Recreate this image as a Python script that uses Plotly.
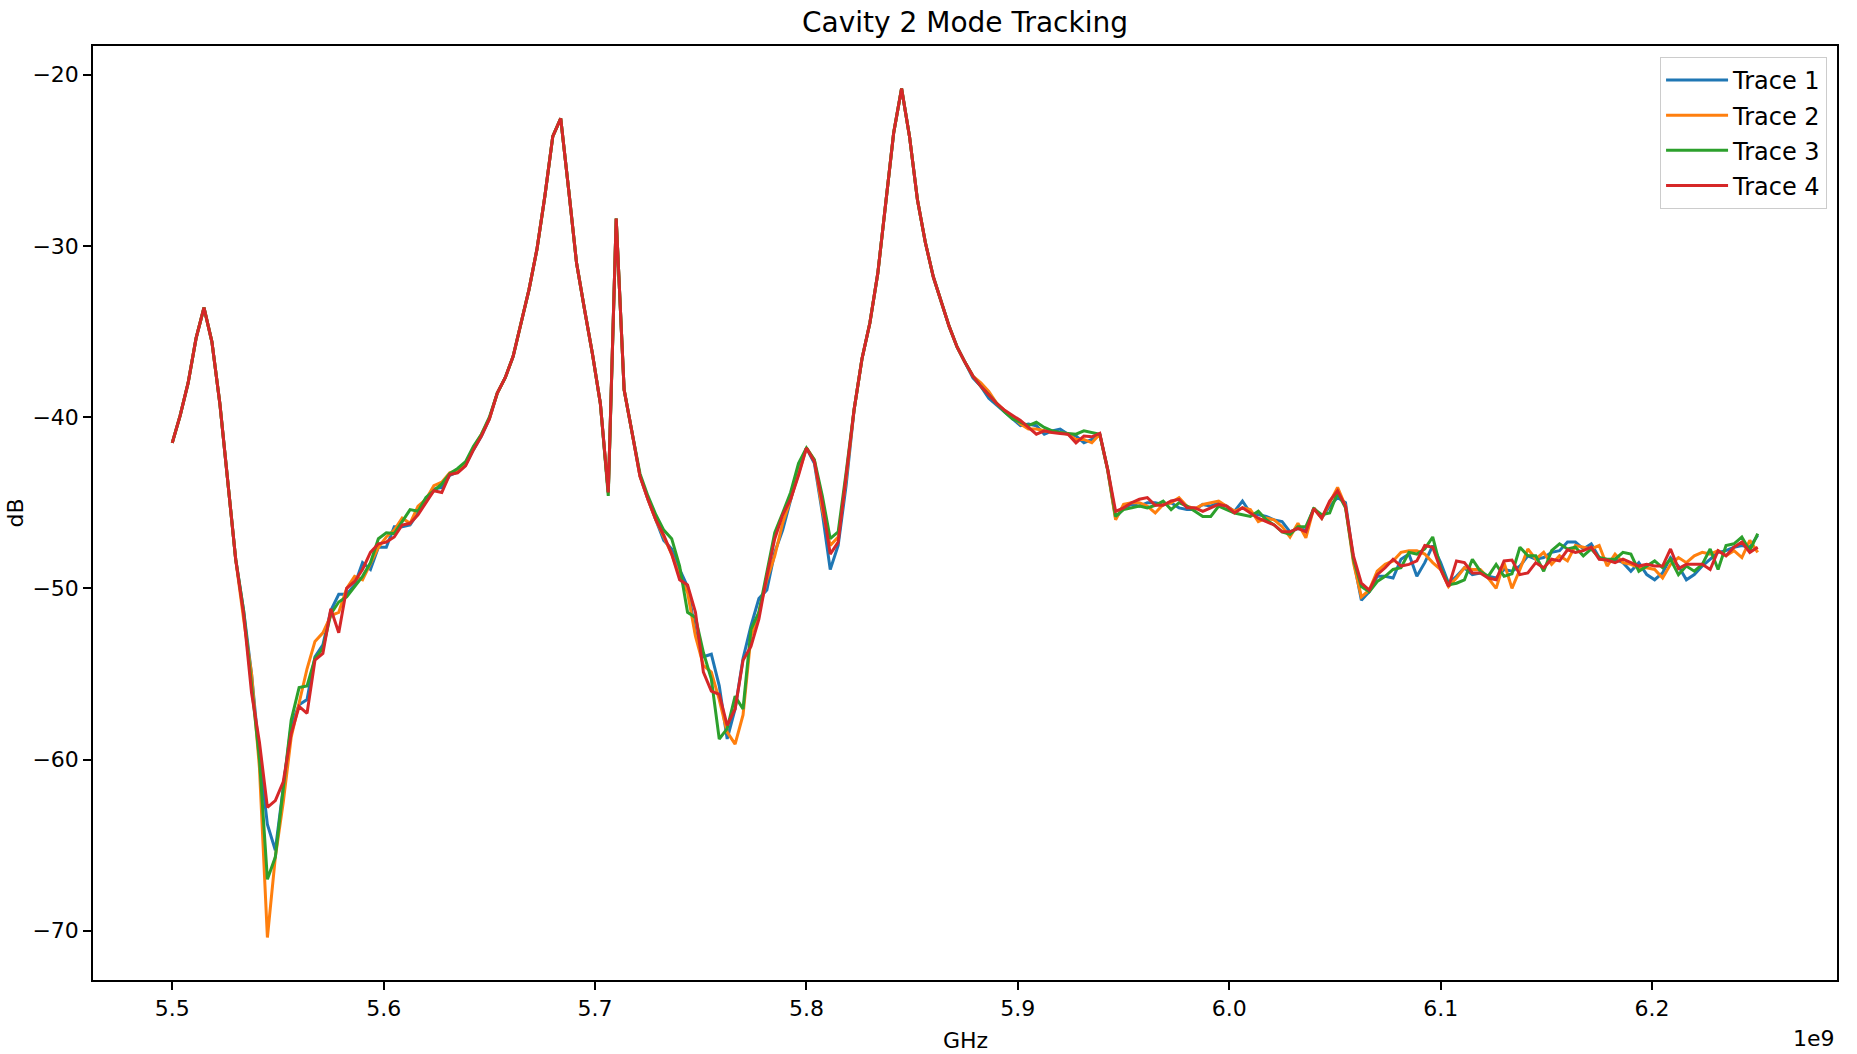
import numpy as np
import plotly.graph_objects as go

# Sweep definition (Hz)
FREQ_START = 5.5e9
FREQ_STOP = 6.25e9
N_POINTS = 201
freq = np.linspace(FREQ_START, FREQ_STOP, N_POINTS)

trace_names = ["Trace 1", "Trace 2", "Trace 3", "Trace 4"]

trace1 = [
    -41.5, -39.9, -38.0, -35.4, -33.6, -35.6, -39.2, -43.8, -48.3, -51.3,
    -55.0, -59.8, -63.8, -65.3, -61.5, -58.0, -56.8, -56.5, -54.0, -53.3,
    -51.3, -50.35, -50.35, -49.8, -48.5, -48.9, -47.6, -47.6, -46.4, -46.4,
    -46.3, -45.6, -44.9, -44.2, -44.1, -43.4, -43.2, -42.8, -41.9, -41.1,
    -40.1, -38.6, -37.7, -36.45, -34.5, -32.55, -30.2, -27.1, -23.6, -22.55,
    -26.7, -31.0, -33.7, -36.3, -39.2, -44.4, -28.4, -38.4, -40.9, -43.45,
    -44.8, -46.0, -47.2, -47.7, -48.9, -49.9, -52.6, -54.0, -53.85, -55.7,
    -58.8, -57.05, -54.1, -52.2, -50.6, -50.1, -47.9, -46.6, -44.8, -43.1,
    -41.8, -42.7, -45.6, -48.9, -47.5, -44.0, -39.6, -36.6, -34.5, -31.6,
    -27.5, -23.4, -20.8, -23.6, -27.3, -29.8, -31.8, -33.3, -34.7, -35.9,
    -36.8, -37.7, -38.2, -38.9, -39.3, -39.7, -40.1, -40.5, -40.4, -40.5,
    -41.0, -40.8, -40.7, -41.0, -41.1, -41.5, -41.3, -41.0, -43.1, -45.9,
    -45.3, -45.1, -45.2, -45.0, -45.0, -45.1, -45.0, -45.3, -45.4, -45.4,
    -45.1, -45.2, -45.0, -45.2, -45.5, -44.9, -45.6, -45.7, -45.8, -46.0,
    -46.1, -46.7, -46.5, -46.6, -45.3, -45.9, -45.2, -44.7, -45.0, -48.3,
    -50.7, -50.2, -49.3, -49.3, -49.4, -48.3, -48.0, -49.3, -48.5, -47.5,
    -48.5, -49.7, -49.3, -48.8, -49.2, -49.1, -49.3, -49.4, -48.9, -49.0,
    -48.7, -48.1, -48.3, -48.2, -47.9, -47.8, -47.3, -47.3, -47.7, -47.4,
    -48.2, -48.4, -48.3, -48.5, -49.0, -48.5, -49.2, -49.5, -49.1, -48.2,
    -48.7, -49.5, -49.2, -48.7, -48.3, -47.9, -47.8, -47.6, -47.5, -47.6,
    -46.9,
]

trace2 = [
    -41.5, -39.9, -38.0, -35.4, -33.6, -35.6, -39.2, -43.8, -48.3, -51.8,
    -55.0, -60.5, -70.4, -65.7, -62.5, -58.7, -56.6, -54.7, -53.1, -52.6,
    -51.6, -51.4, -50.0, -49.3, -49.5, -48.5, -47.6, -47.0, -46.6, -45.9,
    -46.2, -45.2, -44.8, -44.0, -43.8, -43.25, -43.1, -42.7, -41.8, -41.0,
    -40.1, -38.6, -37.7, -36.45, -34.5, -32.55, -30.2, -27.1, -23.6, -22.55,
    -26.7, -31.0, -33.7, -36.3, -39.2, -44.4, -28.4, -38.4, -40.9, -43.45,
    -44.8, -46.0, -47.0, -48.0, -49.3, -50.25, -52.8, -54.5, -54.9, -56.5,
    -58.4, -59.1, -57.4, -52.8, -51.4, -49.5, -48.1, -46.2, -44.8, -43.25,
    -41.8, -42.5, -45.4, -47.5, -47.0, -43.6, -39.6, -36.6, -34.5, -31.6,
    -27.5, -23.4, -20.8, -23.6, -27.3, -29.8, -31.8, -33.3, -34.7, -35.9,
    -36.8, -37.6, -38.0, -38.5, -39.2, -39.6, -40.0, -40.4, -40.7, -40.7,
    -40.8, -40.9, -40.9, -41.0, -41.3, -41.3, -41.5, -41.0, -43.1, -46.0,
    -45.1, -45.0, -45.0, -45.2, -45.6, -45.1, -45.0, -44.7, -45.2, -45.35,
    -45.1, -45.0, -44.9, -45.2, -45.5, -45.3, -45.4, -46.1, -45.9, -46.0,
    -46.4, -47.0, -46.2, -47.05, -45.3, -45.9, -45.0, -44.1, -45.2, -48.5,
    -50.5, -50.1, -49.0, -48.6, -48.4, -47.9, -47.8, -47.8, -48.0, -48.5,
    -48.9, -49.9, -49.4, -48.8, -48.9, -48.9, -49.4, -50.0, -48.5, -50.0,
    -48.9, -47.7, -48.3, -47.9, -48.6, -48.1, -48.4, -47.5, -47.6, -47.7,
    -47.5, -48.7, -48.0, -48.5, -48.6, -48.8, -48.8, -48.9, -49.4, -48.6,
    -48.2, -48.5, -48.1, -47.9, -48.0, -47.8, -48.1, -47.8, -48.2, -47.2,
    -47.9,
]

trace3 = [
    -41.5, -39.9, -38.0, -35.4, -33.6, -35.6, -39.2, -43.8, -48.3, -51.3,
    -55.5, -60.0, -67.0, -65.7, -61.7, -57.7, -55.8, -55.7, -54.1, -53.5,
    -51.5, -50.8, -50.5, -49.9, -49.3, -48.5, -47.1, -46.75, -46.8, -46.1,
    -45.4, -45.5, -44.7, -44.3, -43.9, -43.3, -43.0, -42.6, -41.7, -41.0,
    -40.0, -38.6, -37.7, -36.45, -34.5, -32.55, -30.2, -27.1, -23.6, -22.55,
    -26.7, -31.0, -33.7, -36.3, -39.2, -44.6, -28.4, -38.4, -40.9, -43.3,
    -44.6, -45.7, -46.6, -47.1, -48.7, -51.4, -51.7, -53.75, -55.3, -58.8,
    -58.2, -56.3, -57.05, -52.4, -51.4, -49.1, -46.75, -45.6, -44.4, -42.7,
    -41.8, -42.5, -44.6, -47.1, -46.7, -43.25, -39.6, -36.6, -34.5, -31.6,
    -27.5, -23.4, -20.8, -23.6, -27.3, -29.8, -31.8, -33.3, -34.7, -35.9,
    -36.8, -37.6, -38.2, -38.7, -39.2, -39.7, -40.1, -40.3, -40.5, -40.3,
    -40.6, -40.8, -40.9, -40.95, -41.0, -40.8, -40.9, -41.0, -43.05, -45.8,
    -45.4, -45.3, -45.2, -45.3, -45.15, -44.9, -45.4, -45.0, -45.2, -45.5,
    -45.8, -45.8, -45.2, -45.4, -45.6, -45.7, -45.8, -45.5, -46.0, -46.3,
    -46.7, -46.85, -46.4, -46.4, -45.35, -45.7, -45.6, -44.4, -45.3, -48.3,
    -49.9, -50.2, -49.6, -49.3, -48.9, -48.8, -47.9, -48.0, -47.7, -47.0,
    -48.8, -49.8, -49.7, -49.5, -48.3, -49.0, -49.3, -48.6, -49.3, -49.15,
    -47.6, -48.1, -48.1, -49.0, -47.8, -47.4, -47.7, -47.6, -48.1, -47.7,
    -48.2, -48.3, -48.3, -47.9, -48.0, -49.0, -48.7, -48.4, -48.8, -48.3,
    -49.2, -48.7, -49.0, -48.6, -47.7, -48.9, -47.5, -47.4, -47.0, -47.8,
    -46.8,
]

trace4 = [
    -41.5, -39.9, -38.0, -35.4, -33.6, -35.6, -39.2, -43.8, -48.3, -51.5,
    -56.1, -59.0, -62.8, -62.4, -61.3, -58.5, -56.9, -57.3, -54.2, -53.8,
    -51.2, -52.6, -50.0, -49.6, -48.9, -47.9, -47.4, -47.3, -47.0, -46.3,
    -46.2, -45.7, -45.0, -44.3, -44.4, -43.35, -43.25, -42.85, -41.9, -41.1,
    -40.1, -38.6, -37.7, -36.45, -34.5, -32.55, -30.2, -27.1, -23.6, -22.55,
    -26.7, -31.0, -33.7, -36.3, -39.2, -44.4, -28.4, -38.4, -40.9, -43.45,
    -44.8, -46.0, -46.9, -48.0, -49.5, -49.8, -51.4, -54.9, -56.0, -56.2,
    -58.0, -57.05, -54.2, -53.4, -51.8, -49.3, -47.1, -45.7, -44.8, -43.4,
    -41.8, -42.6, -45.0, -48.0, -47.3, -43.6, -39.6, -36.6, -34.5, -31.6,
    -27.5, -23.4, -20.8, -23.6, -27.3, -29.8, -31.8, -33.3, -34.7, -35.9,
    -36.8, -37.6, -38.2, -38.7, -39.2, -39.6, -39.9, -40.2, -40.6, -41.0,
    -40.8, -40.9, -40.95, -41.0, -41.5, -41.1, -41.15, -40.95, -43.05, -45.5,
    -45.3, -45.0, -44.8, -44.7, -45.15, -45.15, -44.9, -44.8, -45.3, -45.3,
    -45.5, -45.3, -45.1, -45.2, -45.6, -45.3, -45.6, -45.9, -46.1, -46.3,
    -46.7, -46.7, -46.5, -46.7, -45.35, -45.9, -44.9, -44.3, -45.2, -48.1,
    -49.7, -50.1, -49.2, -48.8, -48.3, -48.7, -48.6, -48.4, -47.5, -47.6,
    -48.9, -49.9, -48.4, -48.5, -49.1, -49.1, -49.4, -49.5, -48.4, -48.35,
    -49.2, -49.1, -48.5, -48.8, -48.3, -48.4, -47.75, -47.9, -47.8, -47.6,
    -48.3, -48.35, -48.5, -48.3, -48.5, -48.7, -48.6, -48.7, -48.7, -47.7,
    -48.85, -48.6, -48.6, -48.6, -48.9, -47.8, -48.1, -47.6, -47.3, -47.9,
    -47.6,
]

series = [trace1, trace2, trace3, trace4]
colors = ["#1f77b4", "#ff7f0e", "#2ca02c", "#d62728"]

x_tick_vals = [5.5e9, 5.6e9, 5.7e9, 5.8e9, 5.9e9, 6.0e9, 6.1e9, 6.2e9]
x_tick_text = ["5.5", "5.6", "5.7", "5.8", "5.9", "6.0", "6.1", "6.2"]
y_tick_vals = [-70, -60, -50, -40, -30, -20]

FONT = "DejaVu Sans"

fig = go.Figure()
for name, vals, col in zip(trace_names, series, colors):
    fig.add_trace(go.Scatter(
        x=freq, y=vals, mode="lines", name=name, legendgroup=name,
        line=dict(color=col, width=3),
    ))

# matplotlib-like 5% margins
all_vals = np.concatenate([np.array(s) for s in series])
ymin, ymax = all_vals.min(), all_vals.max()
ypad = 0.05 * (ymax - ymin)
xpad = 0.05 * (FREQ_STOP - FREQ_START)

axis_common = dict(
    showline=True, linecolor="black", linewidth=1.5, mirror=True,
    ticks="outside", ticklen=8, tickwidth=1.5, tickcolor="black",
    showgrid=False, zeroline=False,
    tickfont=dict(family=FONT, size=22, color="black"),
)

fig.update_layout(
    width=1857, height=1054,
    margin=dict(l=93, r=20, t=46, b=74),
    paper_bgcolor="white", plot_bgcolor="white",
    font=dict(family=FONT, color="black"),
    title=dict(text="Cavity 2 Mode Tracking", x=0.5, xanchor="center",
               xref="paper",
               y=1 - 22.5 / 1054, yanchor="middle",
               font=dict(family=FONT, size=28, color="black")),
    xaxis=dict(range=[FREQ_START - xpad, FREQ_STOP + xpad],
               tickvals=x_tick_vals, ticktext=x_tick_text, **axis_common),
    yaxis=dict(range=[ymin - ypad, ymax + ypad], tickvals=y_tick_vals,
               **axis_common),
    legend=dict(x=0.9943, y=0.9884, xanchor="right", yanchor="top",
                bgcolor="rgba(255,255,255,0.8)", bordercolor="#cccccc",
                borderwidth=1, tracegroupgap=1, itemwidth=62,
                font=dict(family=FONT, size=24, color="black")),
    showlegend=True,
)

fig.add_annotation(text="GHz", xref="paper", yref="paper", x=0.5, y=-0.0646,
                   xanchor="center", yanchor="middle", showarrow=False,
                   font=dict(family=FONT, size=22, color="black"))
fig.add_annotation(text="dB", xref="paper", yref="paper", x=-93 / 1744, y=0.5,
                   xanchor="left", yanchor="middle", showarrow=False,
                   textangle=-90,
                   font=dict(family=FONT, size=22, color="black"))
fig.add_annotation(text="1e9", xref="paper", yref="paper", x=1.0, y=-0.0625,
                   xanchor="right", yanchor="middle", showarrow=False,
                   font=dict(family=FONT, size=22, color="black"))

fig.write_html("out.html")
